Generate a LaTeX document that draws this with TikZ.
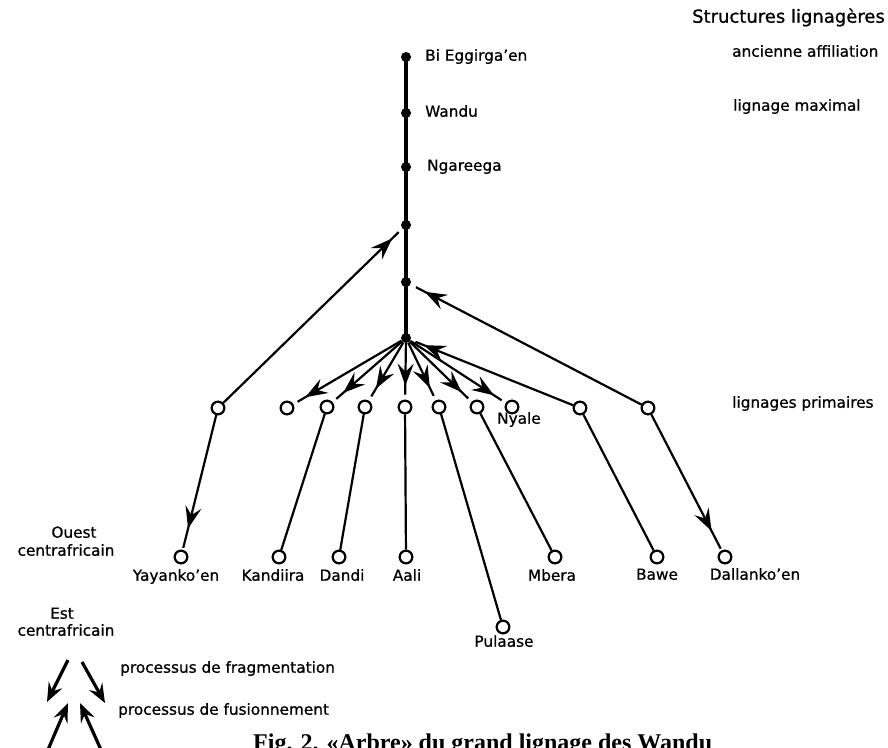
\documentclass[tikz,border=0pt]{standalone}
\usepackage{fontspec}
\setmainfont{DejaVu Sans}[BoldFont={DejaVu Sans},BoldFeatures={FakeBold=0.8}]
\newfontfamily\capfont{Liberation Serif}
\usetikzlibrary{arrows.meta,decorations.markings}

\begin{document}
\begin{tikzpicture}[x=1pt,y=-1pt,
  lbl/.style={font=\bfseries\fontsize{15.3}{17}\selectfont, inner sep=0pt},
  fdot/.style={circle,fill=black,minimum size=10pt,inner sep=0pt},
  odot/.style={circle,draw=black,line width=2.1pt,fill=white,minimum size=12.5pt,inner sep=0pt},
  trunk/.style={line width=4pt},
  link/.style={line width=2.2pt},
  arr/.style={postaction={decorate},decoration={markings,mark=at position #1 with {\arrow{Stealth[length=22pt,width=16pt,inset=8pt]}}}},
  legarr/.style={line width=3.2pt,-{Stealth[length=19pt,width=15pt,inset=7pt]}},
]
\useasboundingbox (0,0) rectangle (888,747);

% trunk
\coordinate (ttop) at (406,57);
\coordinate (tbot) at (406,338);
\draw[trunk] (ttop) -- (tbot);
\node[fdot] (bi) at (406,57) {};
\node[fdot] (wa) at (406,113) {};
\node[fdot] (ng) at (406,167) {};
\node[fdot] (d4) at (406,225) {};
\node[fdot] (d5) at (406,282) {};
\node[fdot] (hub) at (406,338) {};

% primary lineages
\node[odot] (p1) at (218,408) {};
\node[odot] (p2) at (287,408) {};
\node[odot] (p3) at (327,407) {};
\node[odot] (p4) at (365,407) {};
\node[odot] (p5) at (405,407) {};
\node[odot] (p6) at (439,407) {};
\node[odot] (p7) at (477,407) {};
\node[odot] (p8) at (512,407) {};
\node[odot] (p9) at (580,408) {};
\node[odot] (p10) at (648,408) {};

% bottom lineages
\node[odot] (b1) at (181,557) {};
\node[odot] (b2) at (279,557) {};
\node[odot] (b3) at (339,557) {};
\node[odot] (b4) at (406,557) {};
\node[odot] (b5) at (555,557) {};
\node[odot] (b6) at (657,557) {};
\node[odot] (b7) at (725,557) {};
\node[odot] (b8) at (503,627) {};

% fan from hub (fragmentation)
\foreach \p in {p2,p3,p4,p5,p6,p7,p8}
  \draw[link, shorten >=5pt, arr=-14pt] (hub) -- (\p);

% fusion arrows
\draw[link, shorten >=5pt, arr=-14pt] (p1) -- (d4);
\draw[link, shorten >=6pt, arr=-16pt] (p10) -- (d5);
\draw[link, shorten >=5pt, arr=-14pt] (p9) -- (hub);

% descending lines
\draw[link, shorten >=2pt, arr=-22pt] (p1) -- (b1);
\draw[link] (p3) -- (b2);
\draw[link] (p4) -- (b3);
\draw[link] (p5) -- (b4);
\draw[link] (p6) -- (b8);
\draw[link] (p7) -- (b5);
\draw[link] (p9) -- (b6);
\draw[link, shorten >=2pt, arr=-22pt] (p10) -- (b7);

% redraw open circles on top
\foreach \n in {p1,p2,p3,p4,p5,p6,p7,p8,p9,p10,b1,b2,b3,b4,b5,b6,b7,b8}
  \node[odot] at (\n) {};

% trunk labels
\node[lbl, anchor=mid west] (lbi) at (425,58) {Bi Eggirga’en};
\node[lbl, anchor=mid west] (lwa) at (425,114) {Wandu};
\node[lbl, anchor=mid west] (lng) at (427,168) {Ngareega};

% right column
\node[font=\bfseries\fontsize{18}{20}\selectfont, inner sep=0pt, anchor=mid east] (lstr) at (885,20) {Structures lignagères};
\node[lbl, anchor=mid west] (lanc) at (732,54) {ancienne affiliation};
\node[lbl, anchor=mid west] (lmax) at (733,108) {lignage maximal};
\node[lbl, anchor=mid west] (lprim) at (732,405) {lignages primaires};

% names
\node[lbl, anchor=mid west] (lny) at (497,421) {Nyale};
\node[lbl, anchor=mid] (l1) at (176,578) {Yayanko’en};
\node[lbl, anchor=mid] (l2) at (273,578) {Kandiira};
\node[lbl, anchor=mid] (l3) at (342,578) {Dandi};
\node[lbl, anchor=mid] (l4) at (407,578) {Aali};
\node[lbl, anchor=mid] (l5) at (552,578) {Mbera};
\node[lbl, anchor=mid] (l6) at (657,577) {Bawe};
\node[lbl, anchor=mid] (l7) at (755,577) {Dallanko’en};
\node[lbl, anchor=mid] (l8) at (504,644) {Pulaase};

% regions
\node[lbl, anchor=mid] (lou) at (74,535) {Ouest};
\node[lbl, anchor=mid] (lca1) at (66,553) {centrafricain};
\node[lbl, anchor=mid] (les) at (62,616) {Est};
\node[lbl, anchor=mid] (lca2) at (66,633) {centrafricain};

% legend
\coordinate (fa1) at (68,660); \coordinate (fa2) at (47,702);
\coordinate (fb1) at (82,662); \coordinate (fb2) at (105,703);
\coordinate (ua1) at (47,752); \coordinate (ua2) at (68,703);
\coordinate (ub1) at (102,752); \coordinate (ub2) at (80,703);
\draw[legarr] (fa1) -- (fa2);
\draw[legarr] (fb1) -- (fb2);
\draw[legarr] (ua1) -- (ua2);
\draw[legarr] (ub1) -- (ub2);
\node[lbl, anchor=mid west] (lfrag) at (120,670) {processus de fragmentation};
\node[lbl, anchor=mid west] (lfus) at (118,712) {processus de fusionnement};

% caption (cut by page edge, as in the reference)
\node[font=\capfont\bfseries\fontsize{24}{26}\selectfont, inner sep=0pt, anchor=base west] (cap) at (253,750) {Fig. 2. «Arbre» du grand lignage des Wandu};
\end{tikzpicture}
\end{document}
